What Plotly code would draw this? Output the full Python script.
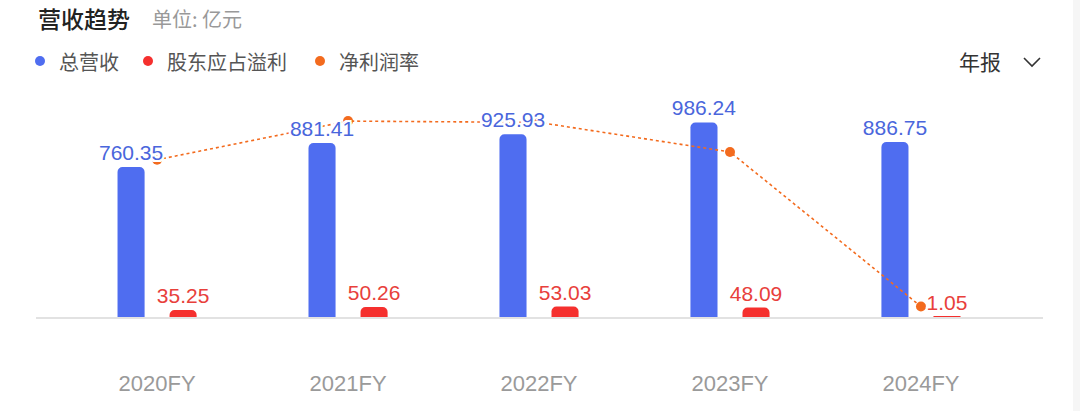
import plotly.graph_objects as go

# ---- data ----
categories = ["2020FY", "2021FY", "2022FY", "2023FY", "2024FY"]
revenue = [760.35, 881.41, 925.93, 986.24, 886.75]          # 总营收 (亿元)
profit = [35.25, 50.26, 53.03, 48.09, 1.05]                 # 股东应占溢利 (亿元)
net_margin = [4.64, 5.83, 5.79, 4.88, 0.12]                 # 净利润率 (%)

title_text = "营收趋势"
unit_text = "单位: 亿元"
legend_names = ["总营收", "股东应占溢利", "净利润率"]
period_text = "年报"

# ---- styles ----
BLUE = "#4F6DF0"
BLUE_TXT = "#4A66DC"
RED = "#F5302E"
RED_TXT = "#E8403B"
ORANGE = "#F36B1E"
W, H = 1080, 411
L, R, T, B = 36, 37, 100, 94
PW, PH = W - L - R, H - T - B


def px_x(X):
    return (X - L) / PW


def px_y(Y):
    return (H - B - Y) / PH


NUM_FONT = "Liberation Sans, Arial, Noto Sans CJK SC"
CJK_FONT = "Noto Sans CJK SC, Noto Sans, sans-serif"
HALO = ("2px 0px 0px #fff, -2px 0px 0px #fff, 0px 2px 0px #fff, 0px -2px 0px #fff, "
        "2px 2px 0px #fff, -2px -2px 0px #fff, 2px -2px 0px #fff, -2px 2px 0px #fff")

fig = go.Figure()

# bars (bottom layer)
fig.add_trace(go.Bar(x=categories, y=revenue, name=legend_names[0],
                     marker=dict(color=BLUE, cornerradius=5, line=dict(width=0, color=BLUE)),
                     yaxis="y", showlegend=False, hoverinfo="skip"))
fig.add_trace(go.Bar(x=categories, y=profit, name=legend_names[1],
                     marker=dict(color=RED, cornerradius=5, line=dict(width=0, color=RED)),
                     yaxis="y", showlegend=False, hoverinfo="skip"))

# net margin line (middle layer)
fig.add_trace(go.Scatter(x=categories, y=net_margin, name=legend_names[2],
                         mode="lines+markers", yaxis="y2",
                         line=dict(color=ORANGE, width=1.6, dash="dot"),
                         marker=dict(color=ORANGE, size=10),
                         showlegend=False, hoverinfo="skip", cliponaxis=False))

# value labels (top layer, invisible bars carrying the text)
for vals, col in ((revenue, BLUE_TXT), (profit, RED_TXT)):
    fig.add_trace(go.Bar(x=categories, y=vals, yaxis="y3",
                         marker=dict(color="rgba(255,255,255,0)",
                                     line=dict(width=0, color="rgba(255,255,255,0)")),
                         text=[f"{v:.2f}" for v in vals], textposition="outside",
                         constraintext="none",
                         textfont=dict(family=NUM_FONT, size=21, color=col, shadow=HALO),
                         cliponaxis=False, showlegend=False, hoverinfo="skip"))

annotations = [
    dict(text=title_text, x=px_x(36), y=px_y(18), xref="paper", yref="paper",
         xanchor="left", yanchor="middle", showarrow=False,
         font=dict(family=CJK_FONT, size=23, color="#222222", weight=500)),
    dict(text=unit_text, x=px_x(150), y=px_y(18), xref="paper", yref="paper",
         xanchor="left", yanchor="middle", showarrow=False,
         font=dict(family=CJK_FONT, size=20, color="#999999")),
    dict(text=period_text, x=px_x(957), y=px_y(61), xref="paper", yref="paper",
         xanchor="left", yanchor="middle", showarrow=False,
         font=dict(family=CJK_FONT, size=21, color="#333333")),
]
legend_pos = [(40, 57, BLUE), (148, 165, RED), (320, 337, ORANGE)]
shapes = []
for name, (dx, tx, col) in zip(legend_names, legend_pos):
    annotations.append(dict(text=name, x=px_x(tx), y=px_y(61), xref="paper", yref="paper",
                            xanchor="left", yanchor="middle", showarrow=False,
                            font=dict(family=CJK_FONT, size=20, color="#555555")))
    shapes.append(dict(type="circle", xref="paper", yref="paper",
                       xsizemode="pixel", ysizemode="pixel",
                       xanchor=px_x(dx), yanchor=px_y(61),
                       x0=-5, x1=5, y0=-5, y1=5,
                       fillcolor=col, line=dict(width=0)))

# chevron next to 年报
shapes.append(dict(type="path", xref="paper", yref="paper",
                   path=f"M {px_x(1024)} {px_y(58)} L {px_x(1032)} {px_y(66)} L {px_x(1040)} {px_y(58)}",
                   line=dict(color="#333333", width=1.6)))
# light page strip on the right edge
shapes.append(dict(type="rect", xref="paper", yref="paper",
                   x0=px_x(1073), x1=px_x(1082), y0=px_y(-2), y1=px_y(413),
                   fillcolor="#F6F6F6", line=dict(width=0), layer="below"))

fig.update_layout(
    width=W, height=H,
    margin=dict(l=L, r=R, t=T, b=B, pad=0),
    paper_bgcolor="white", plot_bgcolor="white",
    barmode="group", bargap=0.455, bargroupgap=0.48,
    showlegend=False,
    xaxis=dict(type="category", range=[-0.634, 4.639], showgrid=False, zeroline=False,
               showline=True, linecolor="#E2E2E2", linewidth=1.5, ticks="",
               ticklabelstandoff=46,
               tickfont=dict(family=NUM_FONT, size=22, color="#9A9A9A"), fixedrange=True),
    yaxis=dict(range=[0, 1100], visible=False, fixedrange=True),
    yaxis2=dict(range=[-0.203, 6.48], overlaying="y", visible=False, fixedrange=True),
    yaxis3=dict(range=[0, 1100], overlaying="y", visible=False, fixedrange=True),
    annotations=annotations, shapes=shapes,
)

fig.write_html("out.html", config={"displayModeBar": False},
               post_script="document.body.style.margin='0px';document.body.style.overflow='hidden';")
